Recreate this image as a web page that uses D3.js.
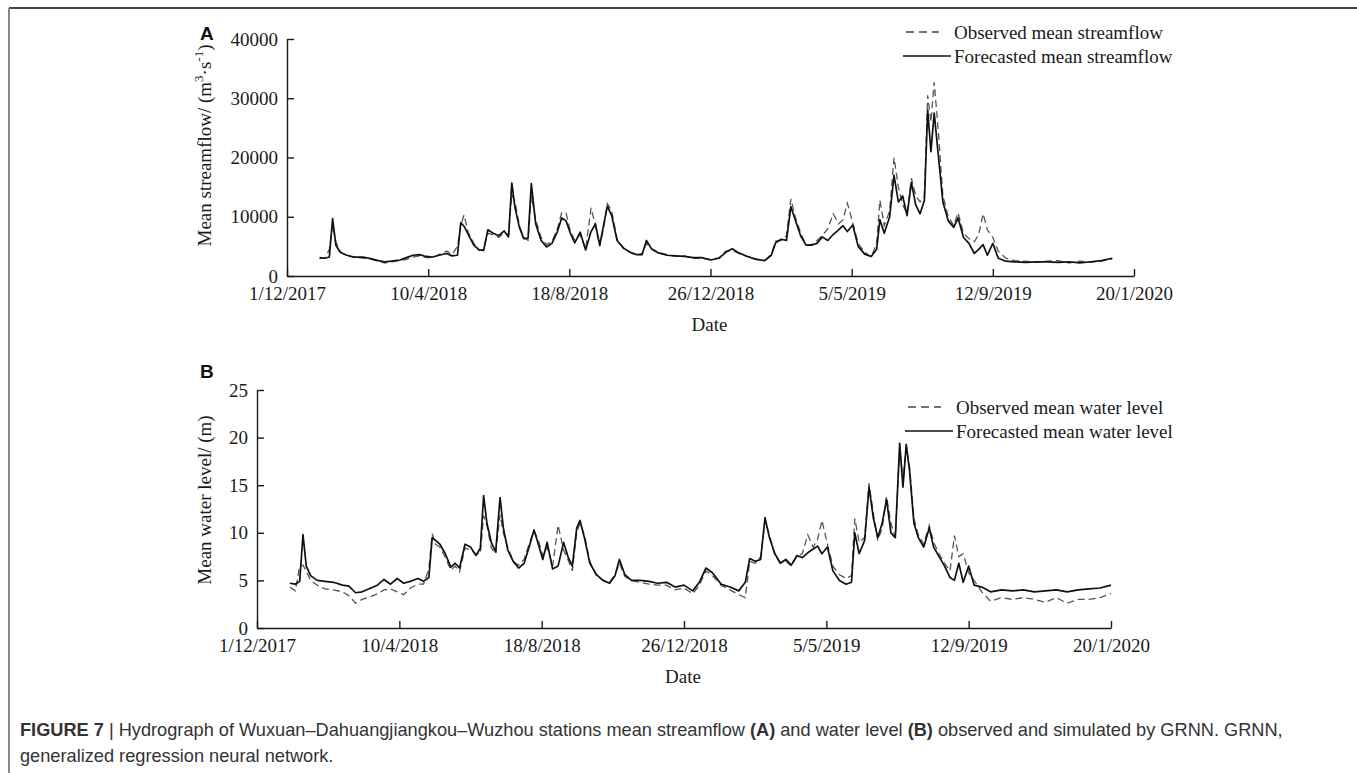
<!DOCTYPE html>
<html>
<head>
<meta charset="utf-8">
<script src="https://cdn.jsdelivr.net/npm/d3@7"></script>
<style>
  body { margin: 0; background: #fff; }
  svg { display: block; }
</style>
</head>
<body>
<div id="chart"></div>
<script>
// sampling dates shared by both panels
const dates = [
  "2017-12-31","2018-01-05","2018-01-09","2018-01-12","2018-01-15","2018-01-19","2018-01-25","2018-02-01","2018-02-09","2018-02-17",
  "2018-02-23","2018-03-01","2018-03-07","2018-03-15","2018-03-21","2018-03-27","2018-04-02","2018-04-08","2018-04-14","2018-04-20",
  "2018-04-27","2018-05-02","2018-05-07","2018-05-10","2018-05-13","2018-05-17","2018-05-22","2018-05-27","2018-05-31","2018-06-04",
  "2018-06-09","2018-06-14","2018-06-19","2018-06-23","2018-06-26","2018-06-29","2018-07-03","2018-07-07","2018-07-11","2018-07-14",
  "2018-07-18","2018-07-23","2018-07-28","2018-08-02","2018-08-07","2018-08-11","2018-08-15","2018-08-19","2018-08-23","2018-08-28",
  "2018-09-02","2018-09-07","2018-09-11","2018-09-15","2018-09-19","2018-09-22","2018-09-26","2018-10-01","2018-10-07","2018-10-13",
  "2018-10-19","2018-10-24","2018-10-28","2018-11-02","2018-11-08","2018-11-16","2018-11-24","2018-12-02","2018-12-10","2018-12-18",
  "2018-12-26","2019-01-03","2019-01-09","2019-01-15","2019-01-21","2019-01-29","2019-02-06","2019-02-14","2019-02-20","2019-02-24",
  "2019-03-01","2019-03-06","2019-03-10","2019-03-14","2019-03-19","2019-03-24","2019-03-29","2019-04-03","2019-04-08","2019-04-13",
  "2019-04-18","2019-04-23","2019-04-27","2019-05-01","2019-05-06","2019-05-11","2019-05-17","2019-05-23","2019-05-28","2019-05-31",
  "2019-06-04","2019-06-09","2019-06-13","2019-06-17","2019-06-21","2019-06-25","2019-06-29","2019-07-03","2019-07-07","2019-07-11",
  "2019-07-14","2019-07-17","2019-07-20","2019-07-24","2019-07-28","2019-08-02","2019-08-07","2019-08-11","2019-08-16","2019-08-21",
  "2019-08-26","2019-08-30","2019-09-03","2019-09-07","2019-09-12","2019-09-17","2019-09-24","2019-10-02","2019-10-12","2019-10-22",
  "2019-11-01","2019-11-11","2019-11-21","2019-12-01","2019-12-11","2019-12-21","2019-12-31","2020-01-10","2020-01-20"
];

// panel A, streamflow (m3/s)
const flowForecast = [
  3100,3000,3200,9700,5200,4000,3500,3200,3200,2900,
  2600,2400,2500,2700,3100,3500,3600,3300,3200,3500,
  3800,3400,3500,9000,8400,7000,5200,4400,4300,7800,
  7200,6800,7600,6600,15700,11500,8200,6300,6400,15600,
  8800,6000,4900,5500,7500,9800,9300,7200,5600,7400,
  4400,7500,8800,5200,9000,11800,10200,6000,4700,4000,
  3600,3600,6000,4500,3900,3500,3400,3300,3100,3100,
  2700,3000,4000,4600,3900,3300,2800,2600,3500,5600,
  6200,6000,11700,9500,6800,5200,5200,5500,6600,6000,
  7000,7800,8500,7500,8600,5000,3700,3300,4500,9500,
  7200,10000,17000,12500,13500,10200,15800,12000,10500,12800,
  28000,21000,27500,20000,12500,9300,8200,9800,6500,5500,
  3800,4500,5300,3500,5500,3000,2500,2400,2300,2400,
  2400,2300,2400,2200,2400,2600,3000,null,null
];
const flowObserved = [
  3000,3000,4500,8600,5800,4100,3400,3100,3000,2800,
  2500,2200,2400,2600,2800,3200,3400,3100,3100,3600,
  4200,3600,5000,8500,10300,7300,5500,4300,4500,7200,
  7000,6500,7300,7000,13800,12500,8500,6500,6000,13500,
  9500,6500,5300,5800,8000,10700,10600,7500,6000,7000,
  4500,11500,8500,5000,8500,12200,11000,6200,4600,4000,
  3500,3800,5500,4600,4000,3600,3300,3400,3000,3000,
  2800,3100,4200,4300,3800,3300,2900,2600,3700,5900,
  6000,6800,13000,10000,7300,5200,5300,6000,6800,8000,
  10500,8800,9500,12300,9000,5500,4000,3200,5500,12800,
  8500,11000,20000,15000,12000,10500,16500,13500,12500,13500,
  30500,26000,32700,24000,13500,10000,8500,10700,7200,6300,
  5800,7000,10500,7800,6500,4200,3000,2600,2500,2300,
  2500,2600,2200,2500,2300,2500,2900,null,null
];

// panel B, water level (m)
const levelForecast = [
  4.7,4.6,4.9,9.8,6.5,5.5,5.0,4.9,4.8,4.5,
  4.4,3.7,3.8,4.2,4.5,5.1,4.6,5.2,4.7,4.9,
  5.2,4.9,5.3,9.5,9.2,8.8,7.8,6.4,6.8,6.3,
  8.8,8.5,7.6,8.4,13.9,11.0,9.0,8.0,13.7,10.5,
  8.2,7.0,6.3,6.8,8.7,10.3,8.8,7.2,9.0,6.2,
  6.5,9.0,7.5,6.5,10.5,11.3,9.5,6.8,5.6,5.0,
  4.7,5.5,7.2,5.6,5.0,5.0,4.9,4.7,4.8,4.3,
  4.5,3.9,4.8,6.3,5.8,4.6,4.3,3.9,4.8,7.3,
  7.0,7.2,11.6,9.5,7.8,6.8,7.2,6.6,7.6,7.4,
  7.9,8.3,8.6,7.8,8.5,6.0,5.0,4.6,4.8,10.0,
  7.8,9.2,14.8,11.5,9.5,11.0,13.5,10.0,9.5,19.4,
  14.8,19.3,16.5,11.0,9.5,8.5,10.5,8.5,7.5,6.5,
  5.3,5.0,6.8,4.8,6.5,4.5,4.3,3.8,4.0,3.9,
  4.0,3.8,3.9,4.0,3.8,4.0,4.1,4.2,4.5
];
const levelObserved = [
  4.3,3.9,6.5,6.6,6.0,5.0,4.5,4.1,4.0,3.8,
  3.4,2.6,3.0,3.3,3.6,4.0,4.1,3.8,3.5,4.2,
  4.6,4.6,6.2,9.9,8.8,8.5,7.4,6.1,6.5,5.9,
  8.4,8.2,7.8,7.8,11.8,10.8,8.4,7.8,11.9,10.0,
  8.5,7.0,6.6,7.2,9.0,10.2,9.2,7.6,8.5,6.5,
  10.8,8.2,7.2,6.0,10.0,11.0,9.8,7.0,5.5,5.0,
  4.8,5.6,6.8,5.4,5.0,4.8,4.6,4.5,4.5,4.0,
  4.2,3.6,4.5,6.0,5.5,4.5,4.0,3.5,3.2,7.0,
  6.8,7.5,11.2,9.8,7.6,6.9,7.0,6.5,7.5,7.8,
  9.8,8.5,9.3,11.3,8.8,6.5,5.6,5.2,5.5,11.5,
  9.0,9.5,15.2,12.0,9.2,10.5,13.8,11.0,9.5,18.8,
  15.5,19.0,17.0,11.5,9.8,8.8,10.8,9.0,7.8,6.8,
  6.0,9.7,7.5,7.8,5.8,5.0,3.8,2.8,3.2,3.0,
  3.2,3.0,2.7,3.2,2.6,3.0,3.0,3.2,3.6
];

const tickDates = ["2017-12-01","2018-04-10","2018-08-18","2018-12-26","2019-05-05","2019-09-12","2020-01-20"];
const flowTicks = [0, 10000, 20000, 30000, 40000];
const levelTicks = [0, 5, 10, 15, 20, 25];

const width = 1357, height = 773;
const serif = "'Liberation Serif', 'Times New Roman', serif";
const sans = "'Liberation Sans', Arial, Helvetica, sans-serif";
const ink = "#1a1a1a";

const parse = d3.timeParse("%Y-%m-%d");
const fmt = d3.timeFormat("%-d/%-m/%Y");

let svg = d3.select("#chart")
    .append("svg")
    .attr("width", width)
    .attr("height", height)
    .attr("viewBox", [0, 0, width, height]);

// figure frame (top rule and left rule)
svg.append("line").attr("x1", 9).attr("x2", width).attr("y1", 8).attr("y2", 8)
    .attr("stroke", "#444").attr("stroke-width", 2);
svg.append("line").attr("x1", 9).attr("x2", 9).attr("y1", 8).attr("y2", height)
    .attr("stroke", "#888").attr("stroke-width", 2);

function drawPanel(p) {
    let x = d3.scaleTime()
        .domain([parse(tickDates[0]), parse(tickDates[tickDates.length - 1])])
        .range([p.left, p.right]);
    let y = d3.scaleLinear()
        .domain([p.ticks[0], p.ticks[p.ticks.length - 1]])
        .range([p.bottom, p.top]);

    let g = svg.append("g");

    // axes, ticks pointing inward
    g.append("g")
        .attr("transform", `translate(0,${p.bottom})`)
        .call(d3.axisBottom(x).tickValues(tickDates.map(parse)).tickFormat(fmt)
            .tickSize(-7).tickSizeOuter(0).tickPadding(11))
        .call(a => a.selectAll("text").attr("font-size", 19).attr("font-family", serif).attr("fill", ink))
        .call(a => a.selectAll("line, path").attr("stroke", ink).attr("stroke-width", 1.4));

    g.append("g")
        .attr("transform", `translate(${p.left},0)`)
        .call(d3.axisLeft(y).tickValues(p.ticks).tickFormat(d3.format("d"))
            .tickSize(-7).tickSizeOuter(0).tickPadding(9))
        .call(a => a.selectAll("text").attr("font-size", 19).attr("font-family", serif).attr("fill", ink))
        .call(a => a.selectAll("line, path").attr("stroke", ink).attr("stroke-width", 1.4));

    let line = d3.line()
        .defined(d => d[1] != null)
        .x(d => x(parse(d[0])))
        .y(d => y(d[1]));

    g.append("path")
        .datum(d3.zip(dates, p.observed))
        .attr("fill", "none")
        .attr("stroke", "#555")
        .attr("stroke-width", 1.3)
        .attr("stroke-dasharray", "7,4")
        .attr("d", line);

    g.append("path")
        .datum(d3.zip(dates, p.forecast))
        .attr("fill", "none")
        .attr("stroke", "#111")
        .attr("stroke-width", 1.7)
        .attr("stroke-linejoin", "round")
        .attr("d", line);

    // panel letter
    g.append("text")
        .attr("x", p.letterX).attr("y", p.letterY)
        .attr("font-family", sans).attr("font-weight", "bold").attr("font-size", 19)
        .attr("fill", "#111")
        .text(p.letter);

    // y title
    let yt = g.append("text")
        .attr("transform", `translate(${p.yTitleX},${(p.top + p.bottom) / 2 + p.yTitleShift}) rotate(-90)`)
        .attr("text-anchor", "middle")
        .attr("font-family", serif).attr("font-size", 19).attr("fill", ink);
    p.yTitle(yt);

    // x title
    g.append("text")
        .attr("x", (p.left + p.right) / 2 - 1).attr("y", p.bottom + 55)
        .attr("text-anchor", "middle")
        .attr("font-family", serif).attr("font-size", 19).attr("fill", ink)
        .text("Date");

    // legend
    let leg = g.append("g").attr("transform", `translate(${p.legendX},${p.legendY})`);
    p.legend.forEach((t, i) => {
        leg.append("line")
            .attr("x1", i === 0 ? 3 : 0).attr("x2", i === 0 ? 36 : 48)
            .attr("y1", i * 24).attr("y2", i * 24)
            .attr("stroke", i === 0 ? "#444" : "#111")
            .attr("stroke-width", 1.4)
            .attr("stroke-dasharray", i === 0 ? "8,5" : null);
        leg.append("text")
            .attr("x", 51).attr("y", i * 24).attr("dy", "0.35em")
            .attr("font-family", serif).attr("font-size", 19).attr("fill", ink)
            .text(t);
    });
}

drawPanel({
    letter: "A", letterX: 200, letterY: 40,
    left: 287, right: 1134, top: 39, bottom: 276,
    ticks: flowTicks,
    observed: flowObserved, forecast: flowForecast,
    yTitleX: 211, yTitleShift: -12,
    yTitle: t => {
        t.append("tspan").text("Mean streamflow/ (m");
        t.append("tspan").attr("font-size", 13).attr("dy", -8).text("3");
        t.append("tspan").attr("dy", 8).text("·s");
        t.append("tspan").attr("font-size", 13).attr("dy", -8).text("-1");
        t.append("tspan").attr("dy", 8).text(")");
    },
    legendX: 903, legendY: 32,
    legend: ["Observed mean streamflow", "Forecasted mean streamflow"]
});

drawPanel({
    letter: "B", letterX: 200, letterY: 378,
    left: 257, right: 1111, top: 390, bottom: 628,
    ticks: levelTicks,
    observed: levelObserved, forecast: levelForecast,
    yTitleX: 211, yTitleShift: -9,
    yTitle: t => t.text("Mean water level/ (m)"),
    legendX: 905, legendY: 407,
    legend: ["Observed mean water level", "Forecasted mean water level"]
});

// caption
let cap = svg.append("g").attr("font-family", sans).attr("font-size", 18.2).attr("fill", "#333");
let c1 = cap.append("text").attr("x", 20).attr("y", 736);
c1.append("tspan").attr("font-weight", "bold").text("FIGURE 7");
c1.append("tspan").text(" | Hydrograph of Wuxuan–Dahuangjiangkou–Wuzhou stations mean streamflow ");
c1.append("tspan").attr("font-weight", "bold").text("(A)");
c1.append("tspan").text(" and water level ");
c1.append("tspan").attr("font-weight", "bold").text("(B)");
c1.append("tspan").text(" observed and simulated by GRNN. GRNN,");
cap.append("text").attr("x", 20).attr("y", 762).text("generalized regression neural network.");
</script>
</body>
</html>
